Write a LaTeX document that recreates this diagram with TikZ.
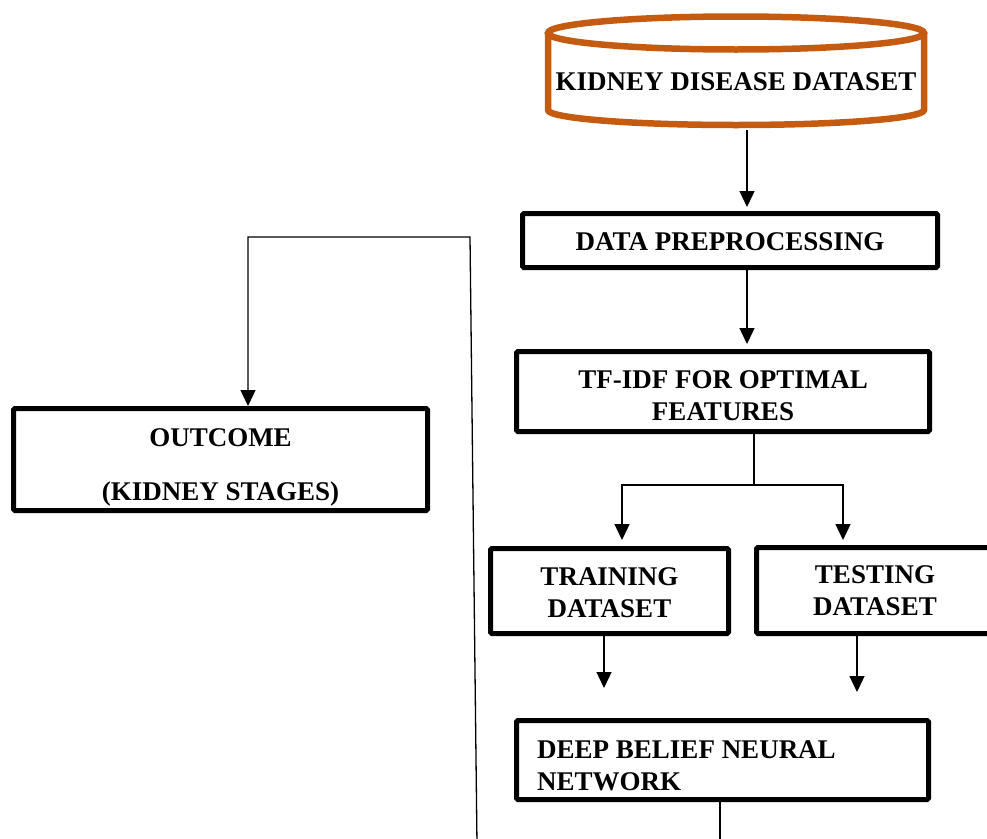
\documentclass[tikz,border=0pt]{standalone}
\usepackage{fontspec}
\setmainfont{Liberation Serif}
\usetikzlibrary{arrows.meta,calc}
\definecolor{cylc}{HTML}{C55A11}
\begin{document}
\begin{tikzpicture}[x=1pt,y=-1pt,
  box/.style={draw, line width=5pt, rounded corners=1.5pt, inner sep=0pt},
  txt/.style={inner sep=0pt, font=\fontsize{27}{32}\selectfont\bfseries, align=center},
  conn/.style={line width=1.3pt},
  arr/.style={conn, -{Triangle[width=15pt,length=16pt]}}]
\clip (0,0) rectangle (987,838);
\fill[white] (0,0) rectangle (987,838);

% dataset cylinder
\node[txt] (ds) at (736,82) {KIDNEY DISEASE DATASET};
\draw[cylc, line width=6.5pt] (736,33) ellipse [x radius=188pt, y radius=16.5pt];
\draw[cylc, line width=6.5pt] (548,33) -- (548,110)
  arc[start angle=180, end angle=360, x radius=188pt, y radius=15pt] -- (924,33);
\coordinate (dsb) at (747,130);

% boxes
\node[box, minimum width=415pt, minimum height=54pt] (dp) at (730,240.5) {};
\node[box, minimum width=413pt, minimum height=80pt] (tf) at (723,391.5) {};
\node[box, minimum width=238pt, minimum height=85pt] (tr) at (609.5,591) {};
\node[box, minimum width=237pt, minimum height=86pt] (te) at (875,590.5) {};
\node[box, minimum width=412pt, minimum height=79pt] (dbn) at (722.5,760) {};
\node[box, minimum width=414pt, minimum height=102pt] (out) at (220.5,459.5) {};

% texts
\node[txt] (dpt) at ([yshift=-1pt]dp.center) {DATA PREPROCESSING};
\node[txt] (tft) at ([yshift=-4.5pt]tf.center) {TF-IDF FOR OPTIMAL\\FEATURES};
\node[txt] (trt) at ([yshift=-2pt]tr.center) {TRAINING\\DATASET};
\node[txt] (tet) at (te.center) {TESTING\\DATASET};
\node[txt, align=left, anchor=west] (dbnt) at ([yshift=-6pt]dbn.west -| 537,0) {DEEP BELIEF NEURAL\\NETWORK};
\node[txt] (outt) at ([yshift=-8pt]out.center) {OUTCOME\\[22pt](KIDNEY STAGES)};

% connectors
\draw[arr, shorten >=4pt] (dsb) -- ([xshift=17pt]dp.north);
\draw[arr, shorten >=5pt] ([xshift=17pt]dp.south) -- ([xshift=24pt]tf.north);
\draw[conn] ([xshift=31pt]tf.south) -- ++(0,51) coordinate (split);
\draw[arr, shorten >=6pt] (split) -| ([xshift=12.5pt]tr.north);
\draw[arr, shorten >=5pt] (split) -| ([xshift=-32pt]te.north);
\draw[arr, shorten >=30pt] ([xshift=-5.5pt]tr.south) -- ([xshift=-5.5pt]tr.south |- dbn.north);
\draw[arr, shorten >=26pt] ([xshift=-18pt]te.south) -- ([xshift=-18pt]te.south |- dbn.north);
\coordinate (dbnend) at (720,845);
\draw[conn] ([xshift=-2.5pt]dbn.south) -- (dbnend);
\coordinate (fb0) at (477,845);
\coordinate (fb1) at (470,237);
\draw[arr] (fb0) -- (fb1) -| ([xshift=27.5pt]out.north);
\end{tikzpicture}
\end{document}
